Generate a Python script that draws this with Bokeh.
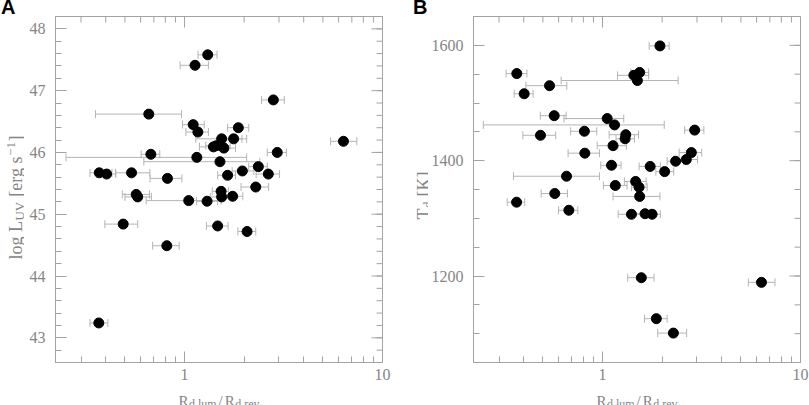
from bokeh.plotting import figure
from bokeh.models import (ColumnDataSource, FixedTicker, Whisker, TeeHead, Label,
                          Range1d, BasicTickFormatter, Div)
from bokeh.layouts import row, column
from bokeh.embed import file_html
from bokeh.resources import INLINE

# ---------------- Panel A: log L_UV vs R_d,lum/R_d,rev ----------------
a_ratio = [1.31, 1.13, 2.81, 0.66, 1.106, 1.168, 1.87, 1.54, 1.77, 6.35,
           1.40, 1.45, 1.58, 2.94, 0.676, 1.154, 1.51, 2.36, 1.96, 2.65,
           1.65, 0.371, 0.404, 0.54, 0.82, 2.29, 0.57, 0.58, 1.53, 1.54,
           1.75, 1.05, 1.30, 0.49, 1.47, 2.07, 0.814, 0.369]
a_ratio_lo = [1.17, 0.95, 2.45, 0.355, 0.977, 1.016, 1.65, 1.14, 1.60, 5.47,
              1.19, 1.28, 1.40, 2.62, 0.604, 0.252, 0.623, 2.11, 1.74, 2.30,
              1.47, 0.333, 0.36, 0.448, 0.67, 1.93, 0.485, 0.50, 1.38, 1.35,
              1.55, 0.64, 1.15, 0.396, 1.29, 1.86, 0.69, 0.333]
a_ratio_hi = [1.46, 1.32, 3.19, 0.966, 1.257, 1.32, 2.11, 2.06, 1.95, 7.42,
              1.63, 1.70, 1.81, 3.27, 0.75, 2.06, 2.40, 2.62, 2.24, 3.02,
              1.81, 0.43, 0.45, 0.668, 0.97, 2.66, 0.665, 0.68, 1.67, 1.75,
              1.97, 1.53, 1.47, 0.58, 1.66, 2.29, 0.94, 0.41]
a_logL = [47.58, 47.41, 46.85, 46.62, 46.45, 46.33, 46.40, 46.22, 46.22, 46.18,
          46.09, 46.11, 46.07, 46.00, 45.97, 45.92, 45.85, 45.77, 45.70, 45.65,
          45.63, 45.67, 45.65, 45.67, 45.58, 45.44, 45.32, 45.28, 45.37, 45.28,
          45.29, 45.22, 45.21, 44.84, 44.81, 44.72, 44.49, 43.24]

# ---------------- Panel B: T_d vs R_d,lum/R_d,rev ----------------
b_ratio = [1.95, 0.369, 1.44, 1.54, 1.50, 0.54, 0.402, 0.57, 1.056, 1.15,
           0.81, 2.92, 0.486, 1.31, 1.30, 1.13, 0.814, 2.81, 2.34, 2.65,
           1.11, 1.74, 2.06, 0.658, 1.47, 1.53, 1.16, 0.574, 1.54, 0.368,
           0.676, 1.40, 1.64, 1.78, 1.57, 6.35, 1.87, 2.28]
b_ratio_lo = [1.72, 0.326, 1.19, 1.39, 0.618, 0.41, 0.358, 0.485, 0.638, 0.25,
              0.69, 2.60, 0.396, 1.08, 1.17, 0.94, 0.67, 2.44, 2.12, 2.30,
              0.98, 1.53, 1.86, 0.355, 1.29, 1.40, 1.01, 0.49, 1.13, 0.33,
              0.60, 1.20, 1.45, 1.60, 1.34, 5.45, 1.63, 1.90]
b_ratio_hi = [2.17, 0.415, 1.71, 1.71, 2.41, 0.66, 0.446, 0.655, 1.28, 2.05,
              0.935, 3.25, 0.58, 1.52, 1.45, 1.32, 0.965, 3.17, 2.57, 3.02,
              1.24, 1.96, 2.29, 0.965, 1.66, 1.68, 1.33, 0.665, 1.95, 0.405,
              0.75, 1.62, 1.85, 1.96, 1.82, 7.43, 2.12, 2.66]
b_Td = [1599, 1551, 1548, 1553, 1539, 1530, 1516, 1478, 1473, 1462,
        1451, 1453, 1444, 1445, 1438, 1426, 1413, 1414, 1399, 1402,
        1392, 1390, 1381, 1373, 1364, 1354, 1357, 1343, 1338, 1328,
        1314, 1307, 1308, 1307, 1197, 1189, 1126, 1101]

# ---------------- axes ----------------
x_limits = (0.223, 10)
x_major = [1, 10]
x_minor = [0.3, 0.4, 0.5, 0.6, 0.7, 0.8, 0.9, 2, 3, 4, 5, 6, 7, 8, 9]
a_y_limits = (42.6, 48.2)
a_y_major = [43, 44, 45, 46, 47, 48]
a_y_minor = [round(42.6 + 0.2 * i, 1) for i in range(29)]
b_y_limits = (1050, 1650)
b_y_major = [1200, 1400, 1600]
b_y_minor = list(range(1050, 1651, 50))

FRAME = "#a3a3a3"
TXT = "#858585"
ERR = "#b4b4b4"
SERIF = "Liberation Serif"
PAGE_H = 405

TIMES = {' ': .25, 'l': .278, 'o': .5, 'g': .5, 'L': .611, 'U': .722, 'V': .722,
         '[': .333, ']': .333, 'e': .444, 'r': .333, 's': .389, '\u2212': .564,
         '1': .5, 'R': .667, 'd': .5, ',': .25, 'u': .5, 'm': .778, '/': .278,
         'v': .5, 'T': .611, 'K': .722}


def tw(s, size):
    return sum(TIMES.get(c, 0.5) for c in s) * size


def total(pieces):
    return sum(tw(t, s) + gb + ga for t, s, sh, gb, ga in pieces)


def place(p, pieces, x0, y0, vertical=False):
    pos = 0.0
    for text, size, shift, gap_before, gap_after in pieces:
        pos += gap_before
        if vertical:
            lab = Label(x=x0 - shift, y=y0 + pos, text=text, angle=1.5707963267948966)
        else:
            lab = Label(x=x0 + pos, y=y0 + shift, text=text)
        lab.text_font = SERIF
        lab.text_font_size = f"{size}px"
        lab.text_color = TXT
        lab.text_align = "left"
        lab.text_baseline = "alphabetic"
        p.add_layout(lab)
        pos += tw(text, size) + gap_after


def text_canvas(w, h, xr, yr):
    # a figure without axes whose data units are page pixels (y measured up from page bottom)
    f = figure(width=w, height=h, x_range=Range1d(*xr), y_range=Range1d(*yr),
               output_backend="svg", toolbar_location=None,
               min_border_left=0, min_border_right=0, min_border_top=0, min_border_bottom=0,
               x_axis_location=None, y_axis_location=None, title=None)
    f.grid.visible = False
    f.outline_line_color = None
    return f


FW, FH = 327, 346
BT, BB = 1, 24          # main plots: page y 15..385, frame 16..362
TOP_H, BOT_H = 15, 20   # strips above and below


def style_axis(ax, standoff):
    ax.axis_line_color = FRAME
    ax.major_tick_line_color = FRAME
    ax.minor_tick_line_color = FRAME
    ax.major_tick_in = 11
    ax.major_tick_out = 0
    ax.minor_tick_in = 6
    ax.minor_tick_out = 0
    ax.formatter = BasicTickFormatter()
    ax.major_label_text_font = SERIF
    ax.major_label_text_font_size = "16px"
    ax.major_label_text_color = TXT
    ax.major_label_standoff = standoff


def make_panel(xv, xlo, xhi, yv, ylim, ymaj, ymin, left, right):
    p = figure(width=left + FW + right, height=BT + FH + BB,
               x_axis_type="log", x_range=Range1d(*x_limits), y_range=Range1d(*ylim),
               output_backend="svg", toolbar_location=None, title=None,
               min_border_left=left, min_border_right=right,
               min_border_top=BT, min_border_bottom=BB)
    p.grid.visible = False
    p.outline_line_color = FRAME
    p.xaxis.ticker = FixedTicker(ticks=x_major, minor_ticks=x_minor)
    p.yaxis.ticker = FixedTicker(ticks=ymaj, minor_ticks=ymin)
    for ax in p.xaxis:
        style_axis(ax, 6)
    for ax in p.yaxis:
        style_axis(ax, 10)
    # mirrored inward ticks on the top and right edges (outer half clipped by the frame)
    p.scatter(x_major, [ylim[1]] * len(x_major), marker="dash", angle=1.5707963267948966,
              size=22, line_color=FRAME, line_width=1)
    p.scatter(x_minor, [ylim[1]] * len(x_minor), marker="dash", angle=1.5707963267948966,
              size=12, line_color=FRAME, line_width=1)
    p.scatter([x_limits[1]] * len(ymaj), ymaj, marker="dash", size=22,
              line_color=FRAME, line_width=1)
    p.scatter([x_limits[1]] * len(ymin), ymin, marker="dash", size=12,
              line_color=FRAME, line_width=1)
    src = ColumnDataSource(dict(x=xv, lo=xlo, hi=xhi, y=yv))
    w = Whisker(source=src, base="y", lower="lo", upper="hi", dimension="width",
                line_color=ERR, line_width=1,
                lower_head=TeeHead(size=8, line_color=ERR, line_width=1),
                upper_head=TeeHead(size=8, line_color=ERR, line_width=1))
    p.add_layout(w)
    p.scatter("x", "y", source=src, size=10, fill_color="black", line_color="black")
    return p


# page x: LA 0..24 | pA 24..400 | LB 400..428 | pB 428..809
pA = make_panel(a_ratio, a_ratio_lo, a_ratio_hi, a_logL, a_y_limits, a_y_major, a_y_minor, 31, 18)
pB = make_panel(b_ratio, b_ratio_lo, b_ratio_hi, b_Td, b_y_limits, b_y_major, b_y_minor, 45, 9)
# side strips: their frames get aligned with the plots' frames (page y 16..362)
frame_y = (PAGE_H - (TOP_H + BT + FH), PAGE_H - (TOP_H + BT))
LA = text_canvas(24, BT + FH + BB, (0, 24), frame_y)
LB = text_canvas(28, BT + FH + BB, (400, 428), frame_y)
XS = text_canvas(809, BOT_H, (0, 809), (0, BOT_H))

xl = [("R", 15, 0, 0, 0), ("d,lum", 12, -3, 0.5, 0), ("/", 15, 0, 2, 2),
      ("R", 15, 0, 0, 0), ("d,rev", 12, -3, 0.5, 0)]
place(XS, xl, 24 + 31 + FW / 2 - total(xl) / 2, 6)
place(XS, xl, 428 + 45 + FW / 2 - total(xl) / 2, 6)

ylA = [("log L", 18, 0, 0, 0), ("UV", 13, -4, 0.5, 0), ("[erg s", 18, 0, 5, 0),
       ("\u22121", 13, 5, 0.5, 0), ("]", 18, 0, 0.5, 0)]
place(LA, ylA, 15, PAGE_H - 197 - total(ylA) / 2, vertical=True)
ylB = [("T", 18, 0, 0, 0), ("d", 13, -3.5, 0.5, 0), ("[K]", 18, 0, 5, 0)]
place(LB, ylB, 423, PAGE_H - 195 - total(ylB) / 2, vertical=True)

# panel letters as HTML text in a top strip
letter_css = ("font-family:'Liberation Sans',Arial,sans-serif;font-weight:bold;"
              "font-size:20px;line-height:15px;color:black;white-space:nowrap;")
divA = Div(text=f'<div style="{letter_css}padding-left:1px">A</div>',
           width=400, height=TOP_H, margin=(0, 0, 0, 0))
divB = Div(text=f'<div style="{letter_css}padding-left:13px">B</div>',
           width=409, height=TOP_H, margin=(0, 0, 0, 0))

layout = column(row(divA, divB), row(LA, pA, LB, pB), XS)
open("out.html", "w").write(file_html(layout, INLINE))
